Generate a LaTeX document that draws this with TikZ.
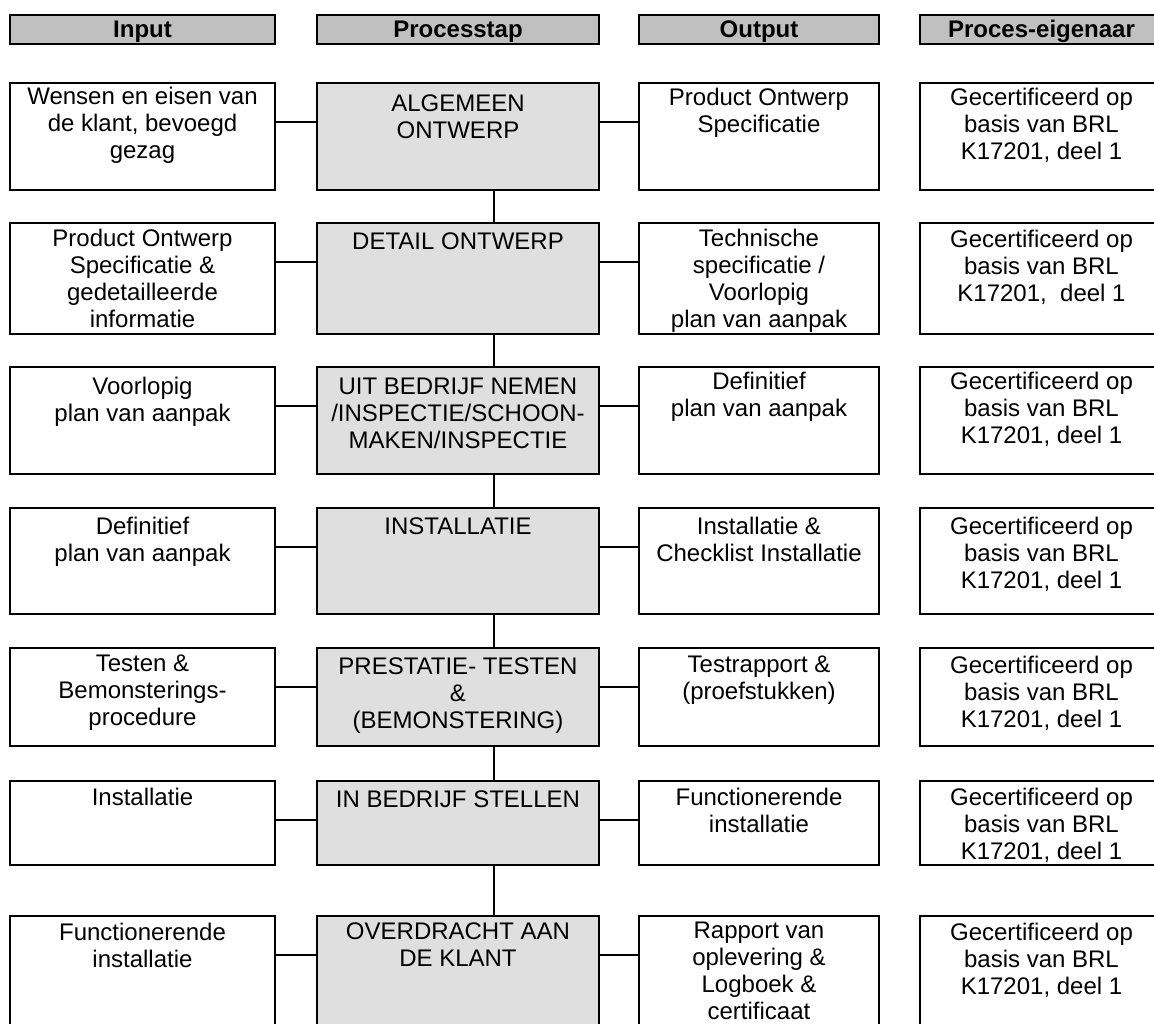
\documentclass[tikz,border=0pt]{standalone}
\usepackage{fontspec}
\setmainfont{Liberation Sans}
\definecolor{hdrgray}{HTML}{C0C0C0}
\definecolor{procgray}{HTML}{DFDFDF}
\newcommand{\celltext}[4]{\parbox[t][#1pt][t]{#2pt}{\centering\hyphenpenalty=10000\vspace*{#3pt}#4}}
\begin{document}
\begin{tikzpicture}[x=1pt,y=-1pt,
  cell/.style={draw, line width=2pt, inner sep=0pt, outer sep=0pt, anchor=north west,
    font=\fontsize{24}{27}\selectfont},
  incell/.style={cell, fill=white},
  stepcell/.style={cell, fill=procgray},
  hdr/.style={draw, line width=2pt, fill=hdrgray, inner sep=0pt, outer sep=0pt,
    minimum height=28.5pt, text height=17.2pt, text depth=0pt,
    font=\fontsize{24}{27}\selectfont\bfseries},
  hconn/.style={line width=2pt},
  vconn/.style={line width=2.6pt}]
\useasboundingbox (0,0) rectangle (1154,1023);
\clip (0,0) rectangle (1154,1023);

% headers
\node[hdr, minimum width=265pt] (hin) at (142.5,29.25) {Input};
\node[hdr, minimum width=282pt] (hpr) at (458,29.25) {Processtap};
\node[hdr, minimum width=240pt] (hout) at (759,29.25) {Output};
\node[hdr, minimum width=243pt] (hown) at (1041.5,29.25) {Proces-eigenaar};

% row 1
\node[incell] (i1) at (10,83) {\celltext{106.5}{265}{4.5}{Wensen en eisen van\\de klant, bevoegd\\gezag}};
\node[stepcell] (p1) at (317,83) {\celltext{106.5}{282}{12}{ALGEMEEN\\ONTWERP}};
\node[incell] (o1) at (639,83) {\celltext{106.5}{240}{5}{Product Ontwerp\\Specificatie}};
\node[incell] (e1) at (920,83) {\celltext{106.5}{243}{5}{Gecertificeerd op\\basis van BRL\\K17201, deel 1}};

% row 2
\node[incell] (i2) at (10,223) {\celltext{111}{265}{6}{Product Ontwerp\\Specificatie \&\\gedetailleerde\\informatie}};
\node[stepcell] (p2) at (317,223) {\celltext{111}{282}{10}{DETAIL ONTWERP}};
\node[incell] (o2) at (639,223) {\celltext{111}{240}{6}{Technische\\specificatie /\\Voorlopig\\plan van aanpak}};
\node[incell] (e2) at (920,223) {\celltext{111}{243}{7}{Gecertificeerd op\\basis van BRL\\K17201,\ \ deel 1}};

% row 3
\node[incell] (i3) at (10,367) {\celltext{107}{265}{10}{Voorlopig\\plan van aanpak}};
\node[stepcell] (p3) at (317,367) {\celltext{107}{282}{11}{UIT BEDRIJF NEMEN\\/INSPECTIE/SCHOON-\\MAKEN/INSPECTIE}};
\node[incell] (o3) at (639,367) {\celltext{107}{240}{5.5}{Definitief\\plan van aanpak}};
\node[incell] (e3) at (920,367) {\celltext{107}{243}{5.5}{Gecertificeerd op\\basis van BRL\\K17201, deel 1}};

% row 4
\node[incell] (i4) at (10,508) {\celltext{105.5}{265}{9}{Definitief\\plan van aanpak}};
\node[stepcell] (p4) at (317,508) {\celltext{105.5}{282}{10}{INSTALLATIE}};
\node[incell] (o4) at (639,508) {\celltext{105.5}{240}{9}{Installatie \&\\Checklist Installatie}};
\node[incell] (e4) at (920,508) {\celltext{105.5}{243}{9}{Gecertificeerd op\\basis van BRL\\K17201, deel 1}};

% row 5
\node[incell] (i5) at (10,648) {\celltext{98}{265}{7}{Testen \&\\Bemonsterings-\\procedure}};
\node[stepcell] (p5) at (317,648) {\celltext{98}{282}{10}{PRESTATIE- TESTEN\\\&\\(BEMONSTERING)}};
\node[incell] (o5) at (639,648) {\celltext{98}{240}{8}{Testrapport \&\\(proefstukken)}};
\node[incell] (e5) at (920,648) {\celltext{98}{243}{8}{Gecertificeerd op\\basis van BRL\\K17201, deel 1}};

% row 6
\node[incell] (i6) at (10,781) {\celltext{84}{265}{7}{Installatie}};
\node[stepcell] (p6) at (317,781) {\celltext{84}{282}{10}{IN BEDRIJF STELLEN}};
\node[incell] (o6) at (639,781) {\celltext{84}{240}{7}{Functionerende\\installatie}};
\node[incell] (e6) at (920,781) {\celltext{84}{243}{7}{Gecertificeerd op\\basis van BRL\\K17201, deel 1}};

% row 7
\node[incell] (i7) at (10,916) {\celltext{120}{265}{7}{Functionerende\\installatie}};
\node[stepcell] (p7) at (317,916) {\celltext{120}{282}{7}{OVERDRACHT AAN\\DE KLANT}};
\node[incell] (o7) at (639,916) {\celltext{120}{240}{5.5}{Rapport van\\oplevering \&\\Logboek \&\\certificaat}};
\node[incell] (e7) at (920,916) {\celltext{120}{243}{7}{Gecertificeerd op\\basis van BRL\\K17201, deel 1}};

% horizontal connectors
\foreach \k in {1,...,7} {
  \draw[hconn] ([yshift=-39pt]i\k.north east) -- ([yshift=-39pt]p\k.north west);
  \draw[hconn] ([yshift=-39pt]p\k.north east) -- ([yshift=-39pt]o\k.north west);
}
% vertical connectors
\foreach \a/\b in {1/2,2/3,3/4,4/5,5/6,6/7} {
  \draw[vconn] ([xshift=177pt]p\a.south west) -- ([xshift=177pt]p\b.north west);
}
\end{tikzpicture}
\end{document}
